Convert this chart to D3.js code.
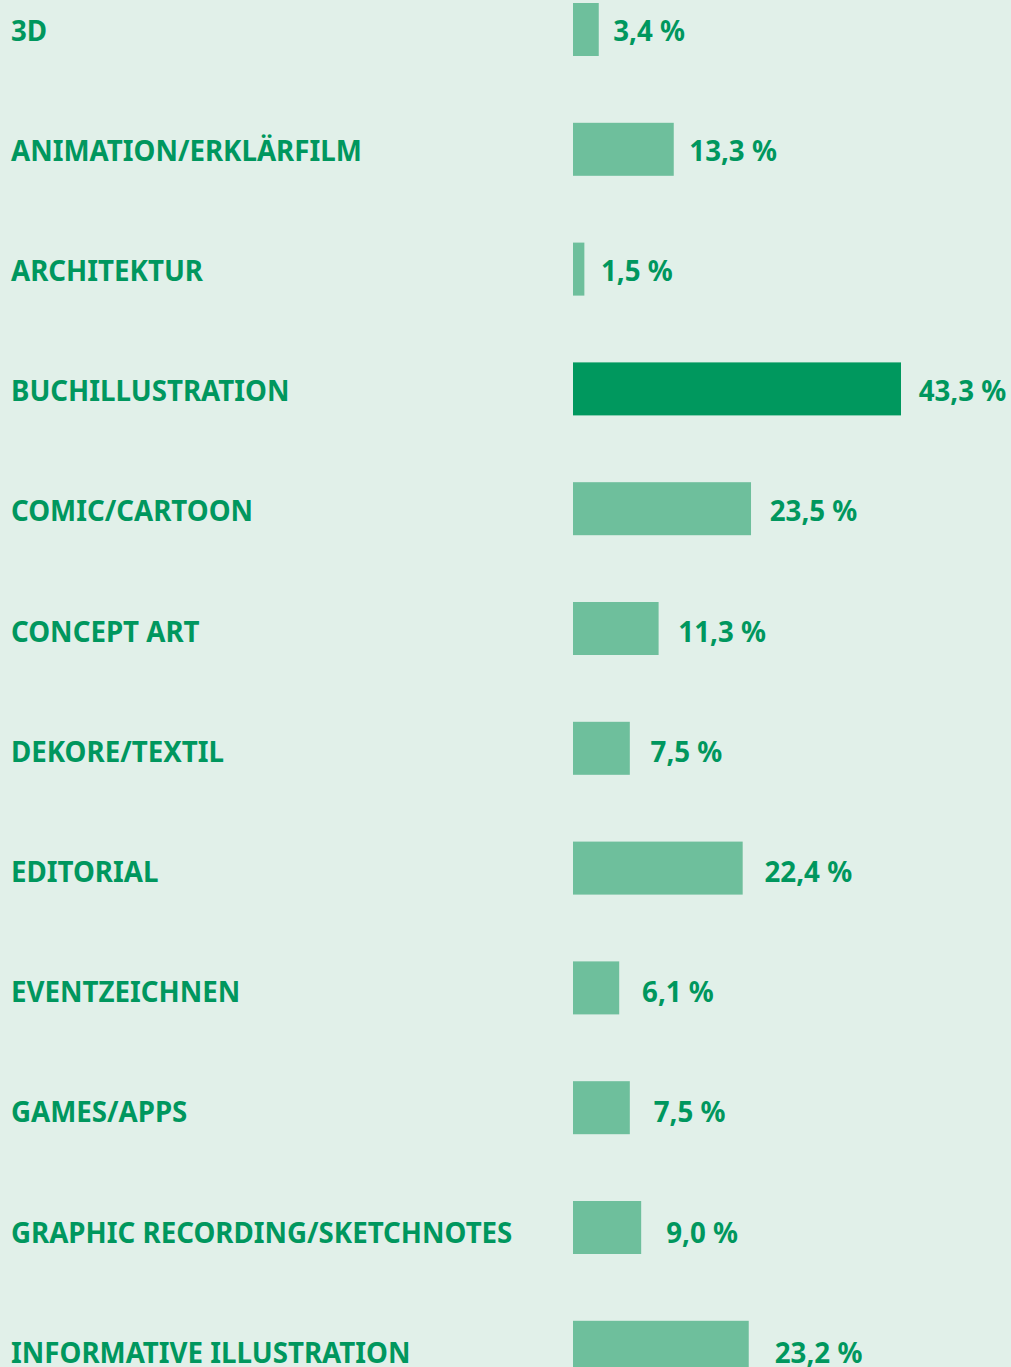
<!DOCTYPE html>
<html lang="de">
<head>
<meta charset="UTF-8">
<title>Tätigkeitsfelder</title>
<script src="https://d3js.org/d3.v7.min.js"></script>
<style>
  html, body { margin: 0; padding: 0; background: #e1f0e9; }
  svg { display: block; }
  .label, .value {
    font-family: "Noto Sans", sans-serif;
    font-weight: 700;
    font-size: 27.7px;
    fill: #00975e;
  }
</style>
</head>
<body>
<svg width="1011" height="1367"></svg>
<script>
  const categories = [
    "3D", "ANIMATION/ERKLÄRFILM", "ARCHITEKTUR", "BUCHILLUSTRATION",
    "COMIC/CARTOON", "CONCEPT ART", "DEKORE/TEXTIL", "EDITORIAL",
    "EVENTZEICHNEN", "GAMES/APPS", "GRAPHIC RECORDING/SKETCHNOTES",
    "INFORMATIVE ILLUSTRATION"
  ];
  const values = [3.4, 13.3, 1.5, 43.3, 23.5, 11.3, 7.5, 22.4, 6.1, 7.5, 9.0, 23.2];
  const highlight = "BUCHILLUSTRATION";

  const rows = categories.map((c, i) => ({ cat: c, val: values[i], i: i }));

  const svg = d3.select("svg");

  const x = d3.scaleLinear()
    .domain([0, 43.3])
    .range([573, 901]);

  const y = d3.scaleBand()
    .domain(categories)
    .range([3, 3 + 1370.8])
    .paddingInner(0.5576)
    .paddingOuter(0);

  const fmt = v => d3.format(".1f")(v).replace(".", ",") + " %";

  // text baseline drifts slightly downwards relative to the bars
  const baseY = d => y(d.cat) + y.bandwidth() / 2 + 11.2 + d.i * 0.38;

  const g = svg.append("g");

  g.selectAll("rect")
    .data(rows)
    .enter()
    .append("rect")
    .attr("x", x(0))
    .attr("y", d => y(d.cat))
    .attr("width", d => x(d.val) - x(0))
    .attr("height", y.bandwidth())
    .attr("fill", d => d.cat === highlight ? "#00985e" : "#6ebf9c");

  g.selectAll(".label")
    .data(rows)
    .enter()
    .append("text")
    .attr("class", "label")
    .attr("x", 11)
    .attr("y", baseY)
    .text(d => d.cat);

  // value labels sit a bit further from the bar on lower rows
  g.selectAll(".value")
    .data(rows)
    .enter()
    .append("text")
    .attr("class", "value")
    .attr("x", d => x(d.val) + 14.5 + d.i * 1.05)
    .attr("y", baseY)
    .text(d => fmt(d.val));
</script>
</body>
</html>
